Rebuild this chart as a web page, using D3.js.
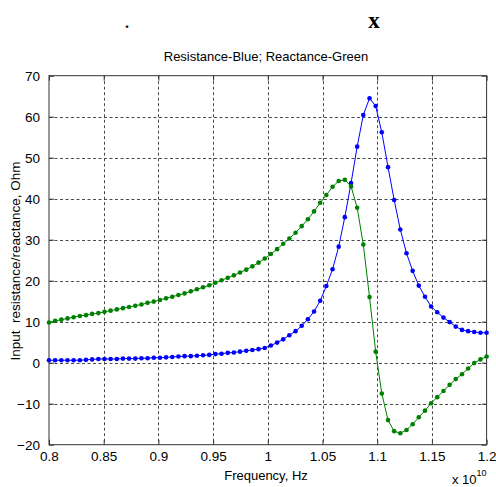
<!DOCTYPE html>
<html>
<head>
<meta charset="utf-8">
<script src="https://cdn.jsdelivr.net/npm/d3@7"></script>
<style>
  body { margin: 0; background: #fff; }
  svg { display: block; }
</style>
</head>
<body>
<svg id="svg1" width="496" height="487"></svg>
<script>
// frequency, units of 1e10 Hz
var freq = [0.8000, 0.8056, 0.8113, 0.8169, 0.8225, 0.8282, 0.8338, 0.8394, 0.8451, 0.8507,
            0.8563, 0.8620, 0.8676, 0.8732, 0.8789, 0.8845, 0.8901, 0.8958, 0.9014, 0.9070,
            0.9127, 0.9183, 0.9239, 0.9296, 0.9352, 0.9408, 0.9465, 0.9521, 0.9577, 0.9634,
            0.9690, 0.9746, 0.9803, 0.9859, 0.9915, 0.9972, 1.0028, 1.0085, 1.0141, 1.0197,
            1.0254, 1.0310, 1.0366, 1.0423, 1.0479, 1.0535, 1.0592, 1.0648, 1.0704, 1.0761,
            1.0817, 1.0873, 1.0930, 1.0986, 1.1042, 1.1099, 1.1155, 1.1211, 1.1268, 1.1324,
            1.1380, 1.1437, 1.1493, 1.1549, 1.1606, 1.1662, 1.1718, 1.1775, 1.1831, 1.1887,
            1.1944, 1.2000];

// resistance (blue)
var resist = [0.6, 0.6, 0.6, 0.6, 0.6, 0.6, 0.7, 0.8, 0.9, 0.9,
              0.9, 0.9, 1.0, 1.0, 1.0, 1.1, 1.1, 1.2, 1.2, 1.3,
              1.4, 1.5, 1.6, 1.6, 1.7, 1.8, 1.9, 2.1, 2.2, 2.4,
              2.5, 2.7, 2.9, 3.1, 3.3, 3.6, 4.2, 4.9, 5.7, 6.7,
              7.7, 9.0, 10.6, 12.5, 15.1, 18.7, 22.8, 28.3, 35.5, 43.8,
              52.7, 60.4, 64.5, 62.6, 56.2, 47.7, 39.7, 32.5, 26.7, 22.4,
              18.8, 16.1, 13.7, 12.3, 11.0, 9.9, 8.8, 8.0, 7.7, 7.5,
              7.3, 7.3];

// reactance (green)
var react = [9.8, 10.2, 10.5, 10.8, 11.1, 11.4, 11.6, 11.9, 12.1, 12.4,
             12.7, 13.0, 13.3, 13.6, 13.9, 14.2, 14.6, 14.9, 15.3, 15.7,
             16.1, 16.5, 16.9, 17.4, 17.9, 18.4, 18.9, 19.5, 20.1, 20.7,
             21.3, 22.0, 22.7, 23.5, 24.4, 25.4, 26.5, 27.7, 29.0, 30.3,
             31.7, 33.3, 35.0, 36.9, 39.0, 40.9, 42.9, 44.3, 44.6, 43.0,
             37.8, 28.8, 16.0, 2.7, -7.5, -14.0, -16.7, -17.2, -16.4, -15.0,
             -13.3, -11.7, -9.9, -8.4, -6.9, -5.4, -4.0, -2.8, -1.4, -0.1,
             0.8, 1.5];

var xTicks = [0.8, 0.85, 0.9, 0.95, 1.0, 1.05, 1.1, 1.15, 1.2];
var xTickLabels = ["0.8", "0.85", "0.9", "0.95", "1", "1.05", "1.1", "1.15", "1.2"];
var yTicks = [-20, -10, 0, 10, 20, 30, 40, 50, 60, 70];

var plotL = 49, plotR = 486.6, plotT = 75.7, plotB = 444.7;
var font = "'Liberation Sans', Arial, sans-serif";

var svg = d3.select("#svg1");

var x = d3.scaleLinear().domain([0.8, 1.2]).range([plotL, plotR]);
var y = d3.scaleLinear().domain([-20, 70]).range([plotB, plotT]);

// stray marks above the axes
svg.append("text")
    .attr("x", 127).attr("y", 28)
    .attr("text-anchor", "middle")
    .style("font-family", "'Liberation Serif', serif")
    .style("font-weight", "bold")
    .style("font-size", "16px")
    .text(".");
svg.append("text")
    .attr("x", 374).attr("y", 28)
    .attr("text-anchor", "middle")
    .style("font-family", "'Liberation Serif', serif")
    .style("font-weight", "bold")
    .style("font-size", "23px")
    .text("x");

// grid (dotted)
var grid = svg.append("g")
    .attr("stroke", "#4a4a4a")
    .attr("stroke-width", 1)
    .attr("stroke-dasharray", "3,2.5");

grid.selectAll(".vg")
    .data(xTicks.slice(1, -1))
    .enter().append("line")
    .attr("x1", function(d) { return Math.round(x(d)) + 0.5; })
    .attr("x2", function(d) { return Math.round(x(d)) + 0.5; })
    .attr("y1", plotT).attr("y2", plotB);

grid.selectAll(".hg")
    .data(yTicks.slice(1, -1))
    .enter().append("line")
    .attr("y1", function(d) { return Math.round(y(d)) + 0.5; })
    .attr("y2", function(d) { return Math.round(y(d)) + 0.5; })
    .attr("x1", plotL).attr("x2", plotR);

// axes
var xAxis = d3.axisBottom(x).tickValues(xTicks)
    .tickFormat(function(d, i) { return xTickLabels[i]; })
    .tickSizeInner(-5).tickSizeOuter(0).tickPadding(7);
var yAxis = d3.axisLeft(y).tickValues(yTicks)
    .tickSizeInner(-5).tickSizeOuter(0).tickPadding(9);

var gx = svg.append("g").attr("transform", "translate(0," + plotB + ")").call(xAxis);
var gy = svg.append("g").attr("transform", "translate(" + plotL + ",0)").call(yAxis);

// ticks on top and right too
var gxt = svg.append("g").attr("transform", "translate(0," + plotT + ")")
    .call(d3.axisTop(x).tickValues(xTicks).tickSizeInner(-5).tickSizeOuter(0).tickFormat(""));
var gyr = svg.append("g").attr("transform", "translate(" + plotR + ",0)")
    .call(d3.axisRight(y).tickValues(yTicks).tickSizeInner(-5).tickSizeOuter(0).tickFormat(""));

[gx, gy, gxt, gyr].forEach(function(g) {
    g.selectAll(".domain").remove();
    g.selectAll("line").attr("stroke", "#333");
    g.selectAll("text")
        .style("font-family", font)
        .style("font-size", "13.5px")
        .attr("fill", "#000");
});

// box
svg.append("rect")
    .attr("x", plotL).attr("y", plotT)
    .attr("width", plotR - plotL).attr("height", plotB - plotT)
    .attr("fill", "none")
    .attr("stroke", "#333")
    .attr("stroke-width", 1);

// series
var series = [
    { vals: resist, color: "#0000ff" },
    { vals: react, color: "#008000" }
];

var line = d3.line()
    .x(function(d, i) { return x(freq[i]); })
    .y(function(d) { return y(d); });

series.forEach(function(s) {
    svg.append("path")
        .datum(s.vals)
        .attr("d", line)
        .attr("fill", "none")
        .attr("stroke", s.color)
        .attr("stroke-width", 1);

    svg.append("g").selectAll("circle")
        .data(s.vals)
        .enter().append("circle")
        .attr("cx", function(d, i) { return x(freq[i]); })
        .attr("cy", function(d) { return y(d); })
        .attr("r", 2.3)
        .attr("fill", s.color);
});

// labels
svg.append("text")
    .attr("x", 266).attr("y", 61)
    .attr("text-anchor", "middle")
    .style("font-family", font)
    .style("font-size", "13px")
    .text("Resistance-Blue; Reactance-Green");

svg.append("text")
    .attr("x", 266).attr("y", 480)
    .attr("text-anchor", "middle")
    .style("font-family", font)
    .style("font-size", "13px")
    .text("Frequency, Hz");

svg.append("text")
    .attr("transform", "translate(20,261) rotate(-90)")
    .attr("text-anchor", "middle")
    .style("font-family", font)
    .style("font-size", "13.5px")
    .text("Input\u00a0 resistance/reactance, Ohm");

var expo = svg.append("text")
    .attr("x", 452).attr("y", 484)
    .style("font-family", font)
    .style("font-size", "13px")
    .text("x 10");
expo.append("tspan")
    .attr("dy", -8)
    .style("font-size", "9px")
    .text("10");
</script>
</body>
</html>
